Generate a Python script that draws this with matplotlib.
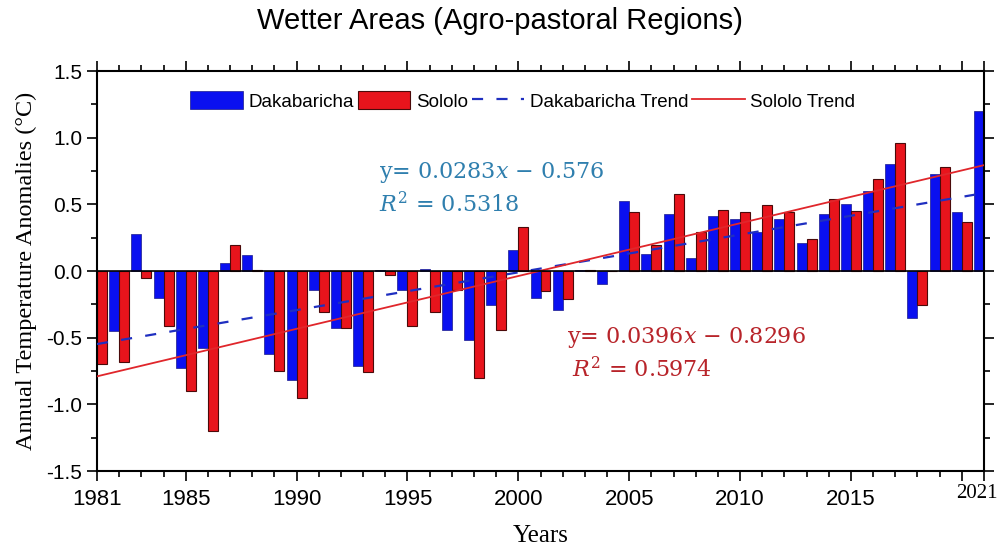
import numpy as np
import matplotlib
matplotlib.use("Agg")
from matplotlib import pyplot as plt
from matplotlib.ticker import MultipleLocator

# Annual temperature anomalies (deg C), 1981-2021
years = np.arange(1981, 2022)
dakabaricha = [-0.60, -0.45, 0.28, -0.205, -0.73, -0.58, 0.06, 0.12, -0.625, -0.82,
               -0.14, -0.43, -0.71, 0.01, -0.14, 0.015, -0.44, -0.52, -0.255, 0.16,
               -0.20, -0.29, 0.01, -0.10, 0.525, 0.13, 0.425, 0.10, 0.415, 0.39,
               0.29, 0.39, 0.21, 0.43, 0.50, 0.60, 0.80, -0.35, 0.73, 0.445, 1.20]
sololo = [-0.70, -0.68, -0.055, -0.41, -0.90, -1.20, 0.195, 0.01, -0.75, -0.95,
          -0.31, -0.43, -0.755, -0.03, -0.41, -0.31, -0.14, -0.80, -0.44, 0.33,
          -0.15, -0.21, 0.005, 0.0, 0.445, 0.195, 0.58, 0.29, 0.46, 0.44,
          0.495, 0.445, 0.24, 0.54, 0.45, 0.69, 0.96, -0.255, 0.78, 0.37, 0.80]

# linear fits against year index (1 = 1981)
dak_slope, dak_icpt, dak_r2 = 0.0283, -0.576, 0.5318
sol_slope, sol_icpt, sol_r2 = 0.0396, -0.8296, 0.5974

blue = '#0a10f0'
red = '#e8141c'

plt.rcParams['mathtext.fontset'] = 'dejavuserif'
sans = ['Liberation Sans', 'DejaVu Sans']
serif = ['Liberation Serif', 'DejaVu Serif']
eqfont = ['DejaVu Serif']

fig = plt.figure(figsize=(10, 5.5), dpi=100)
ax = fig.add_axes([0.097, 0.1436, 0.887, 0.7273])

w = 0.45
b1 = ax.bar(years, dakabaricha, width=-w, align='edge', color=blue,
            edgecolor='#1a1a8a', linewidth=0.5, label='Dakabaricha', zorder=2)
b2 = ax.bar(years, sololo, width=w, align='edge', color=red,
            edgecolor='#4a0a0a', linewidth=0.8, label='Sololo', zorder=2)

idx = years - 1980
l1, = ax.plot(years, dak_slope * idx + dak_icpt, color='#1f2fc0', lw=1.6,
              dashes=(5, 6), label='Dakabaricha Trend', zorder=3)
l2, = ax.plot(years, sol_slope * idx + sol_icpt, color='#e0262b', lw=1.3,
              label='Sololo Trend', zorder=3)
ax.axhline(0, color='black', lw=1.2, zorder=4)

ax.text(1993.7, 0.74, r"y= %.4f$x$ $-$ %.3f" % (dak_slope, -dak_icpt),
        color='#2f7fae', fontsize=16, family=eqfont, va='center')
ax.text(1993.7, 0.495, r"$R^2$ = %.4f" % dak_r2,
        color='#2f7fae', fontsize=16, family=eqfont, va='center')
ax.text(2002.2, -0.495, r"y= %.4f$x$ $-$ %.4f" % (sol_slope, -sol_icpt),
        color='#b8242a', fontsize=16, family=eqfont, va='center')
ax.text(2002.4, -0.74, r"$R^2$ = %.4f" % sol_r2,
        color='#b8242a', fontsize=16, family=eqfont, va='center')

ax.set_xlim(1981, 2021)
ax.set_ylim(-1.5, 1.5)
xt = [1981, 1985, 1990, 1995, 2000, 2005, 2010, 2015, 2020, 2021]
ax.set_xticks(xt)
ax.set_xticklabels(['1981', '1985', '1990', '1995', '2000', '2005', '2010', '2015', '', ''],
                   family=sans, fontsize=16)
# last year label sits at the right edge, set in serif
ax.annotate('2021', xy=(2021, 0), xycoords=ax.get_xaxis_transform(),
            xytext=(10, -9), textcoords='offset points', ha='right', va='top',
            family=serif, fontsize=15, annotation_clip=False)
ax.xaxis.set_minor_locator(MultipleLocator(1))
ax.set_yticks(np.arange(-1.5, 1.51, 0.5))
ax.set_yticklabels(['%.1f' % v for v in np.arange(-1.5, 1.51, 0.5)], family=sans, fontsize=15)
ax.yaxis.set_minor_locator(MultipleLocator(0.25))
ax.tick_params(which='both', top=True, right=True, width=1.2, direction='out')
ax.tick_params(which='major', length=7)
ax.tick_params(which='minor', length=4)
ax.tick_params(axis='x', pad=6)
for s in ax.spines.values():
    s.set_linewidth(1.5)

ax.set_xlabel('Years', family=serif, fontsize=18, labelpad=11)
ax.set_ylabel('Annual Temperature Anomalies (°C)', family=serif, fontsize=17.5, labelpad=7)
fig.suptitle('Wetter Areas (Agro-pastoral Regions)', family=sans, fontsize=21, y=0.988)

ax.legend([b1, b2, l1, l2], ['Dakabaricha', 'Sololo', 'Dakabaricha Trend', 'Sololo Trend'],
          loc='center', bbox_to_anchor=(0.48, 0.925), ncol=4, frameon=False,
          prop={'family': sans, 'size': 13.5}, handlelength=2.8, handleheight=1.1,
          columnspacing=0.2, handletextpad=0.3)

fig.savefig('out.png', dpi=100)
